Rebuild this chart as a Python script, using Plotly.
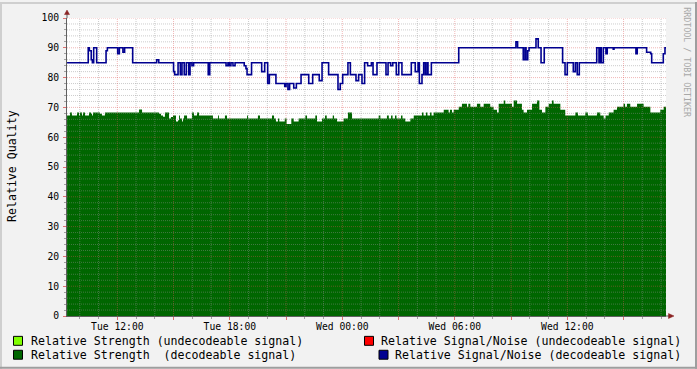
import datetime as dt
import plotly.graph_objects as go

# ---------------- data ----------------
BASE = dt.datetime(2008, 1, 1)          # a Tuesday, 00:00
START_H = 9.317                          # hours after Tue 00:00
END_H = 41.264

# Relative Strength (decodeable signal): step start (hours after Tue 00:00) and value
strength_hours = [
    9.32, 9.48, 9.58, 9.85, 9.96, 10.01, 10.12, 10.17, 10.28, 10.49,
    10.60, 10.65, 10.70, 11.08, 11.18, 11.34, 13.16, 13.32, 14.22, 14.33,
    14.44, 14.54, 14.76, 14.86, 14.97, 15.13, 15.24, 15.29, 15.34, 15.45,
    15.50, 15.56, 15.72, 15.98, 16.09, 16.25, 16.36, 17.10, 17.37, 17.42,
    17.74, 17.85, 18.92, 18.97, 19.50, 19.61, 20.25, 20.36, 20.46, 20.57,
    20.64, 20.93, 21.03, 21.28, 21.41, 21.67, 22.03, 22.12, 22.56, 22.65,
    22.92, 23.08, 23.17, 23.49, 23.56, 23.72, 24.07, 24.30, 24.52, 25.94,
    26.03, 26.38, 26.48, 26.60, 26.68, 26.81, 26.89, 27.13, 27.21, 27.36,
    27.63, 27.81, 28.25, 28.33, 28.46, 28.54, 28.68, 28.76, 28.87, 29.41,
    29.67, 29.74, 29.85, 29.94, 30.21, 30.38, 30.65, 30.72, 30.83, 31.18,
    31.36, 31.54, 31.89, 32.07, 32.25, 32.34, 32.61, 32.69, 33.05, 33.14,
    33.32, 33.58, 33.67, 33.85, 34.12, 34.38, 34.51, 34.65, 34.83, 35.01,
    35.18, 35.27, 35.63, 35.89, 36.43, 36.57, 36.96, 37.10, 37.58, 37.76,
    37.94, 38.04, 38.21, 38.47, 38.65, 39.00, 39.08, 39.18, 39.36, 39.72,
    40.07, 40.43, 40.96, 41.14,
]
strength_values = [
    67.3, 68.3, 67.3, 68.3, 67.3, 68.3, 67.3, 68.3, 67.3, 68.3,
    67.9, 67.3, 68.3, 67.9, 67.3, 68.3, 69.3, 68.3, 67.9, 67.3,
    66.9, 68.3, 66.3, 66.8, 67.3, 65.3, 65.7, 67.3, 66.3, 65.3,
    66.3, 67.3, 66.3, 68.3, 67.3, 68.3, 67.3, 66.3, 67.3, 66.3,
    67.3, 66.3, 67.3, 66.3, 67.3, 66.3, 67.3, 66.3, 65.3, 66.3,
    65.3, 66.3, 64.4, 66.3, 65.3, 66.3, 67.3, 66.3, 67.3, 65.3,
    66.3, 67.3, 66.3, 67.3, 66.3, 65.3, 66.3, 68.3, 66.3, 67.3,
    66.3, 67.3, 66.3, 67.3, 66.3, 67.3, 66.3, 67.3, 66.3, 65.3,
    66.3, 67.3, 68.3, 67.3, 68.3, 67.3, 68.3, 67.3, 68.3, 69.2,
    68.3, 69.2, 68.3, 69.2, 70.2, 71.2, 70.2, 71.2, 70.2, 71.2,
    70.2, 71.2, 70.2, 69.2, 68.3, 71.2, 72.3, 71.2, 70.2, 72.3,
    71.2, 69.2, 68.3, 69.2, 71.2, 72.3, 69.2, 68.3, 70.2, 71.2,
    72.3, 71.2, 69.2, 67.3, 68.3, 67.3, 68.3, 67.3, 68.3, 67.3,
    66.3, 67.3, 68.3, 69.2, 70.2, 71.2, 70.2, 71.2, 70.2, 71.2,
    70.2, 68.3, 69.2, 70.2,
]

# Relative Signal/Noise (decodeable signal)
sn_hours = [
    9.32, 10.45, 10.51, 10.61, 10.67, 10.74, 10.90, 11.40, 11.47, 12.02,
    12.11, 12.30, 12.39, 12.82, 14.10, 14.21, 15.00, 15.06, 15.24, 15.36,
    15.45, 15.57, 15.68, 15.81, 15.88, 15.98, 16.07, 16.85, 16.93, 17.80,
    17.90, 17.97, 18.06, 18.17, 18.28, 18.77, 18.86, 18.92, 19.16, 19.70,
    19.86, 20.02, 20.11, 20.46, 20.93, 21.00, 21.10, 21.19, 21.41, 21.55,
    21.80, 22.21, 22.42, 22.77, 22.92, 23.27, 23.77, 23.89, 24.02, 24.30,
    24.43, 24.73, 24.87, 25.05, 25.19, 25.35, 25.55, 25.64, 25.85, 26.33,
    26.44, 26.58, 26.69, 26.88, 27.01, 27.18, 27.68, 27.89, 28.04, 28.11,
    28.25, 28.34, 28.43, 28.52, 28.57, 28.75, 30.21, 33.26, 33.35, 33.65,
    33.74, 33.80, 33.89, 33.96, 34.33, 34.45, 34.60, 34.77, 35.75, 35.88,
    36.00, 36.32, 36.43, 36.53, 36.64, 37.57, 37.69, 37.76, 37.81, 37.92,
    38.06, 38.13, 38.45, 38.49, 39.66, 39.73, 40.23, 40.45, 40.50, 41.12,
    41.21,
]
sn_values = [
    85, 90, 89, 86, 85, 90, 85, 89, 90, 88,
    90, 88.5, 90, 85, 86, 85, 82, 81, 85, 81,
    85, 81, 85, 81, 85, 84, 85, 81, 85, 84,
    85, 84, 85, 84, 85, 84, 83, 81, 85, 82,
    85, 78, 81, 78, 77, 78, 76, 78, 76.5, 78,
    81, 78, 81, 79, 85, 81, 76, 78, 81, 85,
    81, 79, 81, 78, 85, 84, 85, 81, 85, 81,
    85, 84, 85, 81, 85, 81, 85, 82, 85, 78,
    81, 85, 81, 85, 81, 85, 90, 92, 90, 86,
    90, 86, 89, 90, 93, 90, 85, 90, 85, 81,
    85, 82, 85, 81, 85, 90, 85, 90, 85, 90,
    88, 90, 89.5, 90, 88, 90, 88.5, 88, 85, 88,
    90,
]

tick_hours = [12, 15, 18, 21, 24, 27, 30, 33, 36, 39]
tick_labels = ["Tue 12:00", "", "Tue 18:00", "", "Wed 00:00", "",
               "Wed 06:00", "", "Wed 12:00", ""]
y_tick_values = [0, 10, 20, 30, 40, 50, 60, 70, 80, 90, 100]

legend_labels = [
    "Relative Strength (undecodeable signal)",
    "Relative Strength\u00a0\u00a0(decodeable signal)",
    "Relative Signal/Noise (undecodeable signal)",
    "Relative Signal/Noise (decodeable signal)",
]
legend_colors = ["#80FF00", "#006600", "#FF0000", "#000090"]

# ---------------- styles / geometry ----------------
W, H = 697, 369
ML, MR, MT, MB = 67, 31, 16, 53
PW, PH = W - ML - MR, H - MT - MB
MONO = "DejaVu Sans Mono"
GRID = "rgba(143,143,143,0.46)"
MGRID = "rgba(222,80,80,0.42)"
ARROW = "#8B2323"


def T(h):
    return BASE + dt.timedelta(hours=h)


def px(x):
    return (x - ML) / PW


def py(y):
    return (MT + PH - y) / PH


fig = go.Figure()

# area: relative strength
fig.add_trace(go.Scatter(
    x=[T(h) for h in strength_hours] + [T(END_H)],
    y=strength_values + [strength_values[-1]],
    mode="lines", line=dict(width=0, color="#006600", shape="hv"),
    fill="tozeroy", fillcolor="#006600", hoverinfo="skip"))

# grid drawn over the area
def hlines(vals):
    xs, ys = [], []
    for v in vals:
        xs += [T(START_H), T(END_H), None]
        ys += [v, v, None]
    return xs, ys


def vlines(hours):
    xs, ys = [], []
    for h in hours:
        xs += [T(h), T(h), None]
        ys += [0, 100, None]
    return xs, ys


minor_y = [v for v in range(2, 100, 2) if v % 10]
major_y = list(range(10, 101, 10))
hours_all = list(range(10, 42))
minor_x = [h for h in hours_all if h % 3]
major_x = [h for h in hours_all if h % 3 == 0]

for (xs, ys), col in [(hlines(minor_y), GRID), (vlines(minor_x), GRID),
                      (hlines(major_y), MGRID), (vlines(major_x), MGRID)]:
    fig.add_trace(go.Scatter(x=xs, y=ys, mode="lines",
                             line=dict(color=col, width=1, dash="1px,1px"),
                             hoverinfo="skip"))

# line: signal/noise
fig.add_trace(go.Scatter(
    x=[T(h) for h in sn_hours] + [T(END_H)],
    y=sn_values + [sn_values[-1]],
    mode="lines", line=dict(width=1.6, color="#000090", shape="hv"),
    hoverinfo="skip"))

shapes = []
# frame shading
shapes += [
    dict(type="rect", xref="paper", yref="paper", x0=px(0), x1=px(W), y0=py(0), y1=py(2),
         fillcolor="#CFCFCF", line=dict(width=0), layer="below"),
    dict(type="rect", xref="paper", yref="paper", x0=px(0), x1=px(2), y0=py(0), y1=py(H),
         fillcolor="#CFCFCF", line=dict(width=0), layer="below"),
    dict(type="rect", xref="paper", yref="paper", x0=px(W - 2), x1=px(W), y0=py(0), y1=py(H),
         fillcolor="#9E9E9E", line=dict(width=0), layer="below"),
    dict(type="rect", xref="paper", yref="paper", x0=px(0), x1=px(W), y0=py(H - 2), y1=py(H),
         fillcolor="#9E9E9E", line=dict(width=0), layer="below"),
]
# axis arrows
shapes += [
    dict(type="line", xref="paper", yref="paper", x0=0, x1=0, y0=1, y1=py(12),
         line=dict(color="#606060", width=1)),
    dict(type="path", xref="paper", yref="paper",
         path=f"M {px(64.5)} {py(12.5)} L {px(69.5)} {py(12.5)} L {px(67)} {py(8)} Z",
         fillcolor=ARROW, line=dict(color=ARROW, width=0.5)),
    dict(type="line", xref="paper", yref="paper", x0=1, x1=px(669), y0=0, y1=0,
         line=dict(color="#606060", width=1)),
    dict(type="path", xref="paper", yref="paper",
         path=f"M {px(668.5)} {py(313.5)} L {px(668.5)} {py(318.5)} L {px(674)} {py(316)} Z",
         fillcolor=ARROW, line=dict(color=ARROW, width=0.5)),
]

annotations = []
# legend
legend_pos = [(18, 341, 30), (18, 355, 30), (369, 341, 380), (383.5, 355, 394.3)]
for (cx, cy, tx), lab, col in zip(legend_pos, legend_labels, legend_colors):
    shapes.append(dict(type="rect", xref="paper", yref="paper",
                       x0=px(cx - 4.5), x1=px(cx + 4.5), y0=py(cy + 4.5), y1=py(cy - 4.5),
                       fillcolor=col, line=dict(color="black", width=1)))
    annotations.append(dict(xref="paper", yref="paper", x=px(tx - 1), y=py(cy),
                            xanchor="left", yanchor="middle", showarrow=False,
                            text=lab, font=dict(family=MONO, size=11.6, color="black")))

annotations.append(dict(xref="paper", yref="paper", x=px(12), y=py(165),
                        xanchor="center", yanchor="middle", showarrow=False,
                        textangle=-90, text="Relative Quality",
                        font=dict(family=MONO, size=11.6, color="black")))
annotations.append(dict(xref="paper", yref="paper", x=px(687.5), y=py(60),
                        xanchor="center", yanchor="middle", showarrow=False,
                        textangle=90, text="RRDTOOL / TOBI OETIKER",
                        font=dict(family=MONO, size=8.3, color="#A8A8A8")))

fig.update_layout(
    width=W, height=H,
    margin=dict(l=ML, r=MR, t=MT, b=MB, pad=0),
    paper_bgcolor="#F2F2F2", plot_bgcolor="white",
    showlegend=False,
    shapes=shapes, annotations=annotations,
    xaxis=dict(
        type="date", range=[T(START_H), T(END_H)],
        tickmode="array", tickvals=[T(h) for h in tick_hours], ticktext=tick_labels,
        ticks="outside", ticklen=3, tickcolor="#E07070", tickwidth=1,
        showgrid=False, zeroline=False,
        showline=True, linecolor="#606060", linewidth=1,
        tickfont=dict(family=MONO, size=9.7, color="black"),
        ticklabelstandoff=-2,
        minor=dict(dtick=3600000, tick0=T(0), ticks="outside", ticklen=2,
                   tickcolor="#A0A0A0", showgrid=False),
    ),
    yaxis=dict(
        range=[0, 100], tickmode="array", tickvals=y_tick_values,
        ticks="outside", ticklen=3, tickcolor="#E07070", tickwidth=1,
        showgrid=False, zeroline=False,
        showline=True, linecolor="#606060", linewidth=1,
        tickfont=dict(family=MONO, size=9.7, color="black"),
        ticklabelstandoff=2,
        minor=dict(dtick=2, ticks="outside", ticklen=2, tickcolor="#A0A0A0", showgrid=False),
    ),
)

fig.write_html("out.html")
